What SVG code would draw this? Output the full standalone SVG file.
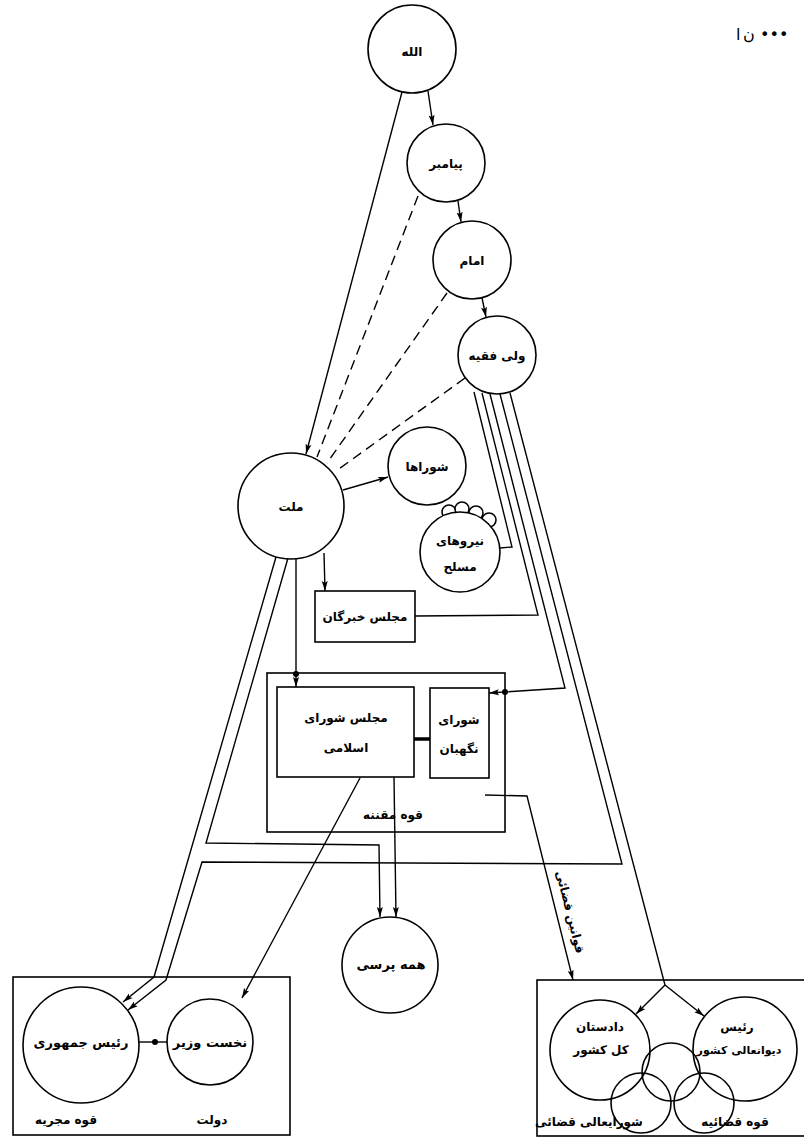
<svg xmlns="http://www.w3.org/2000/svg" width="804" height="1140" viewBox="0 0 804 1140">
<style>
.n{fill:#fff;stroke:#000;stroke-width:1.6}
.o{fill:none;stroke:#000;stroke-width:1.6}
.c{fill:none;stroke:#000;stroke-width:1.4}
.d{stroke-dasharray:10 6}
text{font-family:"DejaVu Sans",sans-serif;font-size:12px;font-weight:bold;fill:#000;text-anchor:middle}
.h{font-size:16px;font-weight:normal;text-anchor:start}
.b{font-size:13px}
</style>
<defs>
<marker id="a" viewBox="0 0 10 6" markerWidth="10" markerHeight="7" refX="10" refY="3" orient="auto" markerUnits="userSpaceOnUse">
<path d="M0,0 L10,3 L0,6 L2,3 z" fill="#000"/>
</marker>
</defs>
<rect width="804" height="1140" fill="#fff"/>
<text class="h" x="736" y="40">ا</text>
<text class="h" x="743" y="40">ن</text>
<text class="h" x="760" y="40">•••</text>

<g id="connectors">
<path class="c" d="M428,91 L433,125" marker-end="url(#a)"/>
<path class="c" d="M458,201 L461,222" marker-end="url(#a)"/>
<path class="c" d="M482,298 L486,317" marker-end="url(#a)"/>
<path class="c" d="M402,92 L306,454" marker-end="url(#a)"/>
<path class="c d" d="M418,196 L317,457"/>
<path class="c d" d="M447,293 L327,463"/>
<path class="c d" d="M465,378 L336,471"/>
<path class="c" d="M343,490 L388,477" marker-end="url(#a)"/>
<path class="c" d="M324,553 L325,591" marker-end="url(#a)"/>
<path class="c" d="M296,559 L296,687" marker-end="url(#a)"/>
<circle cx="296" cy="674" r="3" fill="#000"/>
<path class="c" d="M276,557 L154,977 L123,1002" marker-end="url(#a)"/>
<path class="c" d="M288,558 L206,843 L379,845 L380,917" marker-end="url(#a)"/>
<path class="c" d="M394,777 L396,917" marker-end="url(#a)"/>
<path class="c" d="M360,778 L242,998" marker-end="url(#a)"/>
<path class="c" d="M139,1042 L167,1042"/>
<circle cx="155" cy="1042" r="3" fill="#000"/>
<path class="c" d="M414,739 L430,739" style="stroke-width:3.5"/>
<path class="c" d="M474,392 L512,547 L500,548"/>
<path class="c" d="M482,393 L538,615 L415,616"/>
<path class="c" d="M490,394 L565,688 L489,693" marker-end="url(#a)"/>
<circle cx="505" cy="692" r="3" fill="#000"/>
<path class="c" d="M500,394 L622,864 L202,862 L166,980 L128,1010" marker-end="url(#a)"/>
<path class="c" d="M510,393 L665,985 L636,1014" marker-end="url(#a)"/>
<path class="c" d="M665,985 L704,1016" marker-end="url(#a)"/>
<path class="c" d="M485,795 L527,796 L573,980" marker-end="url(#a)"/>
<text transform="translate(570,912) rotate(75.8)" y="4">قوانین قضائی</text>
</g>

<g id="allah"><circle class="n" cx="412" cy="49" r="44"/><text x="412" y="56">الله</text></g>
<g id="payambar"><circle class="n" cx="446" cy="163" r="39"/><text x="446" y="168">پیامبر</text></g>
<g id="imam"><circle class="n" cx="472" cy="260" r="39"/><text x="472" y="265">امام</text></g>
<g id="vali-faghih"><circle class="n" cx="497" cy="355" r="39"/><text x="497" y="360">ولی فقیه</text></g>
<g id="mellat"><circle class="n" cx="291" cy="506" r="53"/><text x="291" y="511">ملت</text></g>
<g id="shoraha"><circle class="n" cx="427" cy="466" r="39"/><text x="427" y="471">شوراها</text></g>
<g id="niroha">
<circle class="n" cx="449" cy="512" r="7"/><circle class="n" cx="462" cy="509" r="7"/><circle class="n" cx="476" cy="513" r="7"/><circle class="n" cx="489" cy="520" r="7"/>
<circle class="n" cx="460" cy="552" r="40"/>
<text x="460" y="545">نیروهای</text><text x="460" y="571">مسلح</text></g>
<g id="khobregan"><rect class="n" x="315" y="591" width="100" height="51"/><text x="365" y="621">مجلس خبرگان</text></g>
<g id="moghanneh"><rect class="o" x="267" y="673" width="238" height="159"/><text x="393" y="819">قوه مقننه</text></g>
<g id="majles"><rect class="n" x="277" y="687" width="137" height="90"/><text x="346" y="722">مجلس شورای</text><text x="346" y="752">اسلامی</text></g>
<g id="negahban"><rect class="n" x="430" y="688" width="59" height="90"/><text x="459" y="724">شورای</text><text x="459" y="753">نگهبان</text></g>
<g id="hamehporsi"><circle class="n" cx="390" cy="965" r="48"/><text class="b" x="391" y="969">همه پرسی</text></g>
<g id="mojriyeh">
<rect class="o" x="13" y="977" width="277" height="158"/>
<text x="66" y="1124">قوه مجریه</text><text x="212" y="1124">دولت</text>
</g>
<g id="raisjomhour"><circle class="n" cx="81" cy="1045" r="58"/><text class="b" x="81" y="1047">رئیس جمهوری</text></g>
<g id="nakhostvazir"><circle class="n" cx="210" cy="1042" r="43"/><text class="b" x="210" y="1047">نخست وزیر</text></g>
<g id="ghazaiyeh">
<rect class="o" x="537" y="980" width="280" height="156"/>
<circle class="o" cx="600" cy="1050" r="50"/>
<circle class="o" cx="745" cy="1049" r="52"/>
<circle class="o" cx="671" cy="1072" r="29"/>
<circle class="o" cx="641" cy="1103" r="30"/>
<circle class="o" cx="704" cy="1103" r="30"/>
<text x="600" y="1031">دادستان</text><text x="601" y="1054">کل کشور</text>
<text x="737" y="1031">رئیس</text><text x="739" y="1054" style="font-size:11px">دیوانعالی کشور</text>
<text x="589" y="1126">شورایعالی قضائی</text><text x="735" y="1126">قوه قضائیه</text>
</g>
</svg>
